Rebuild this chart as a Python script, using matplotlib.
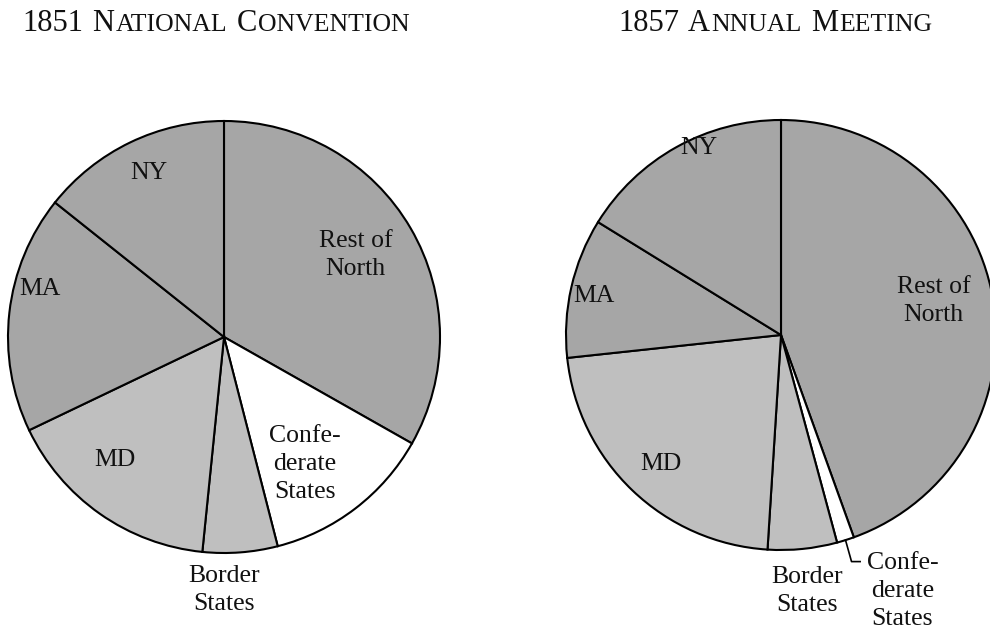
import matplotlib
matplotlib.use("Agg")
import numpy as np
import matplotlib.pyplot as plt
from matplotlib.transforms import IdentityTransform

# shares of delegates by region (percent)
regions = ["Rest of\nNorth", "Confe-\nderate\nStates", "Border\nStates", "MD", "MA", "NY"]
shares_1851 = [33.2, 12.8, 5.6, 16.3, 17.8, 14.3]
shares_1857 = [44.5, 1.3, 5.2, 22.3, 10.5, 16.2]
colors = ["#a6a6a6", "#ffffff", "#bfbfbf", "#bfbfbf", "#a6a6a6", "#a6a6a6"]

# label spots, in units of the pie radius
pos_1851 = [(0.61, 0.38), (0.375, -0.59), (0.0, -1.17), (-0.505, -0.57), (-0.85, 0.22), (-0.35, 0.76)]
pos_1857 = [(0.71, 0.16), (0.565, -1.19), (0.12, -1.19), (-0.56, -0.60), (-0.87, 0.18), (-0.38, 0.87)]

W, H = 990, 631
FONT = "Liberation Serif"
plt.rcParams["font.family"] = FONT

fig = plt.figure(figsize=(W / 100, H / 100), dpi=100)


def draw_pie(rect, vals, pos, leader=False):
    ax = fig.add_axes([rect[0] / W, (H - rect[1] - rect[2]) / H, rect[2] / W, rect[2] / H])
    wedges, _ = ax.pie(vals, colors=colors, startangle=90, counterclock=False,
                       wedgeprops=dict(edgecolor="black", linewidth=1.5))
    ax.set_xlim(-1, 1)
    ax.set_ylim(-1, 1)
    ax.set_aspect("equal")
    ax.axis("off")
    for lab, (x, y) in zip(regions, pos):
        ax.text(x, y, lab, ha="center", va="center", fontsize=18.5,
                linespacing=1.35, color="#111111", clip_on=False)
    if leader:
        w = wedges[1]
        mid = np.deg2rad((w.theta1 + w.theta2) / 2)
        x0, y0 = np.cos(mid), np.sin(mid)
        ax.plot([x0, x0 + 0.028, x0 + 0.068], [y0, y0 - 0.10, y0 - 0.10],
                color="black", lw=1.2, clip_on=False)
    return ax


draw_pie((8, 121, 432), shares_1851, pos_1851)
draw_pie((566, 120, 430), shares_1857, pos_1857, leader=True)

# small caps titles, built piece by piece in pixel coords
renderer = fig.canvas.get_renderer()


def small_caps(x, y, words, big=22, small=18.5):
    for word in words:
        for k, piece in enumerate(word):
            if piece == "":
                continue
            size = big if k == 0 else small
            t = fig.text(x, H - y, piece, fontsize=size, va="baseline", ha="left",
                         transform=IdentityTransform(), color="#111111")
            x += t.get_window_extent(renderer).width + 1.5
        x += big * 100 / 72 * 0.25


small_caps(22, 31, [("1851", ""), ("N", "ATIONAL"), ("C", "ONVENTION")])
small_caps(618, 31, [("1857", ""), ("A", "NNUAL"), ("M", "EETING")])

fig.savefig("out.png", dpi=100)
